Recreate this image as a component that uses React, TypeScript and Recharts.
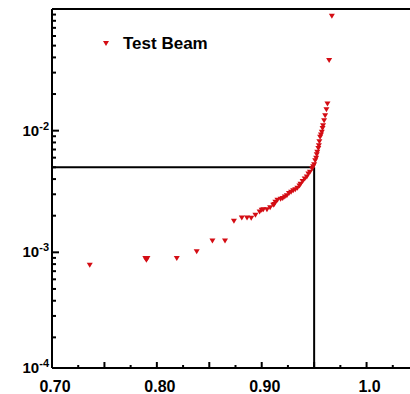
import React from 'react';
import { ScatterChart, Scatter, XAxis, YAxis, ReferenceLine } from 'recharts';

const X_VALUES = [
  0.736, 0.789, 0.790, 0.791, 0.819, 0.838, 0.853, 0.865, 0.8735, 0.881, 0.886,
  0.890, 0.894, 0.898, 0.900, 0.9015, 0.905, 0.908, 0.911, 0.912, 0.913,
  0.915, 0.918, 0.920, 0.922, 0.924, 0.926, 0.928, 0.930, 0.932, 0.934,
  0.936, 0.937, 0.939, 0.941, 0.943, 0.9445, 0.946, 0.948, 0.949, 0.950,
  0.951, 0.9519, 0.9525, 0.953, 0.954, 0.9545, 0.955, 0.9557, 0.9565, 0.9573,
  0.958, 0.9585, 0.9595, 0.9605, 0.9617, 0.9627, 0.9643, 0.9669,
];
const Y_VALUES = [
  7.9e-4, 9.0e-4, 8.7e-4, 9.0e-4, 9.0e-4, 1.02e-3, 1.25e-3, 1.25e-3, 1.82e-3, 1.93e-3, 1.93e-3,
  1.92e-3, 2.04e-3, 2.17e-3, 2.24e-3, 2.26e-3, 2.26e-3, 2.35e-3, 2.46e-3, 2.5e-3, 2.6e-3,
  2.71e-3, 2.76e-3, 2.8e-3, 2.88e-3, 2.95e-3, 3.07e-3, 3.15e-3, 3.23e-3, 3.3e-3, 3.4e-3,
  3.55e-3, 3.67e-3, 3.85e-3, 4.04e-3, 4.2e-3, 4.44e-3, 4.6e-3, 4.9e-3, 5.1e-3, 5.3e-3,
  5.7e-3, 6.0e-3, 6.4e-3, 6.7e-3, 7.2e-3, 7.6e-3, 8.2e-3, 8.9e-3, 9.3e-3, 9.8e-3,
  1.05e-2, 1.11e-2, 1.22e-2, 1.34e-2, 1.5e-2, 1.67e-2, 3.8e-2, 8.8e-2,
];

const X_TICKS = [0.7, 0.725, 0.75, 0.775, 0.8, 0.825, 0.85, 0.875, 0.9, 0.925, 0.95, 0.975, 1.0, 1.025, 1.05];
const X_MAJOR = [0.7, 0.75, 0.8, 0.85, 0.9, 0.95, 1.0, 1.05];
const X_LABELS: Record<string, string> = { '0.7': '0.70', '0.8': '0.80', '0.9': '0.90', '1': '1.0' };

const Y_MIN = 1.12e-4;
const Y_MAX = 0.1;
const Y_MAJOR = [Y_MIN, 1e-3, 1e-2];
const Y_TICKS = [
  Y_MIN, 2e-4, 3e-4, 4e-4, 5e-4, 6e-4, 7e-4, 8e-4, 9e-4,
  1e-3, 2e-3, 3e-3, 4e-3, 5e-3, 6e-3, 7e-3, 8e-3, 9e-3,
  1e-2, 2e-2, 3e-2, 4e-2, 5e-2, 6e-2, 7e-2, 8e-2, 9e-2,
];

const LIMIT_X = 0.95;
const LIMIT_Y = 0.005;
const SERIES_NAME = 'Test Beam';

const RED = '#d40d14';
const FONT = '"Liberation Sans", Arial, sans-serif';

const data = X_VALUES.map((x, i) => ({ x, y: Y_VALUES[i] }));

const Triangle = (props: any) => {
  const { cx, cy } = props;
  if (cx == null || cy == null) return null;
  return <polygon points={`${cx - 3},${cy - 2} ${cx + 3},${cy - 2} ${cx},${cy + 3}`} fill={RED} />;
};

const isMajor = (list: number[], v: number) => list.some((m) => Math.abs(m - v) < 1e-9);

const XTick = (props: any) => {
  const { x, y, payload } = props;
  const v = payload.value;
  const len = isMajor(X_MAJOR, v) ? 6 : 3;
  const label = X_LABELS[String(Math.round(v * 100) / 100)];
  const isLabelled = label && Math.abs(Math.round(v * 10) / 10 - v) < 1e-9;
  return (
    <g>
      <line x1={x} y1={y} x2={x} y2={y - len} stroke="#000" strokeWidth={2} />
      {isLabelled && (
        <text x={x + 3} y={y + 24} textAnchor="middle" fontFamily={FONT} fontWeight="bold" fontSize={16} fill="#000">
          {label}
        </text>
      )}
    </g>
  );
};

const YTick = (props: any) => {
  const { x, y, payload } = props;
  const v = payload.value;
  const major = isMajor(Y_MAJOR, v);
  const exp = Math.round(Math.log10(v));
  return (
    <g>
      <line x1={x} y1={y} x2={x + (major ? 7 : 4)} y2={y} stroke="#000" strokeWidth={2} />
      {major && (
        <text x={x - 3} y={y + 5} textAnchor="end" fontFamily={FONT} fontWeight="bold" fontSize={15} fill="#000">
          <tspan>10</tspan>
          <tspan dy={-6} fontSize={11}>{`${exp}`}</tspan>
        </text>
      )}
    </g>
  );
};

const LegendBox = () => (
  <svg width={240} height={26} style={{ position: 'absolute', left: 0, top: 30 }}>
    <polygon points="103,11 109,11 106,16" fill={RED} />
    <text x={123} y={19} fontFamily={FONT} fontWeight="bold" fontSize={17} fill="#000">
      {SERIES_NAME}
    </text>
  </svg>
);

export default function App() {
  return (
    <div style={{ position: 'fixed', left: 0, top: 0, width: 410, height: 394, overflow: 'hidden', background: '#fff' }}>
      <ScatterChart width={440} height={394} margin={{ top: 9, right: 21, bottom: 0, left: 0 }}>
        <XAxis
          type="number"
          dataKey="x"
          domain={[0.7, 1.05]}
          allowDataOverflow
          ticks={X_TICKS}
          interval={0}
          height={26}
          tickSize={0}
          tickMargin={0}
          tickLine={false}
          axisLine={{ stroke: '#000', strokeWidth: 2 }}
          tick={<XTick />}
        />
        <YAxis
          type="number"
          dataKey="y"
          scale="log"
          domain={[Y_MIN, Y_MAX]}
          allowDataOverflow
          ticks={Y_TICKS}
          interval={0}
          width={52}
          tickSize={0}
          tickMargin={0}
          tickLine={false}
          axisLine={{ stroke: '#000', strokeWidth: 2 }}
          tick={<YTick />}
        />
        <ReferenceLine y={Y_MAX} stroke="#000" strokeWidth={2} />
        <ReferenceLine segment={[{ x: 0.7, y: LIMIT_Y }, { x: LIMIT_X, y: LIMIT_Y }]} stroke="#000" strokeWidth={2} />
        <ReferenceLine segment={[{ x: LIMIT_X, y: Y_MIN }, { x: LIMIT_X, y: LIMIT_Y }]} stroke="#000" strokeWidth={2} />
        <Scatter name={SERIES_NAME} data={data} fill={RED} shape={<Triangle />} isAnimationActive={false} />
      </ScatterChart>
      <LegendBox />
    </div>
  );
}
